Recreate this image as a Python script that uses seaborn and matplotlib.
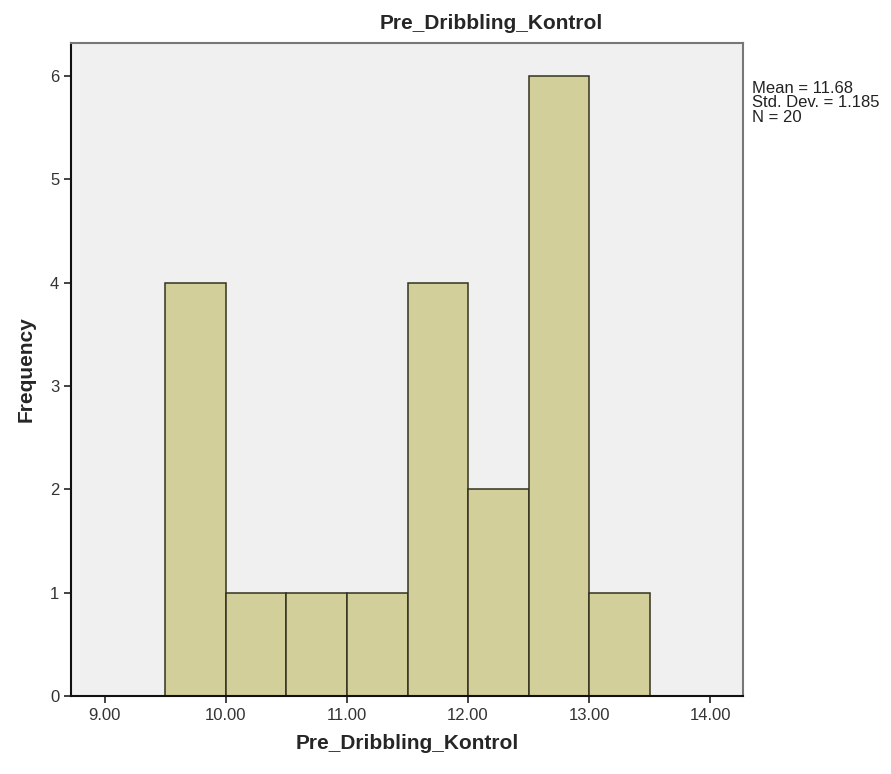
import numpy as np
import seaborn as sns
import matplotlib.pyplot as plt

# histogram data (bin width 0.5)
bin_centers = [9.75, 10.25, 10.75, 11.25, 11.75, 12.25, 12.75, 13.25]
counts = [4, 1, 1, 1, 4, 2, 6, 1]
bin_edges = [9.5, 10.0, 10.5, 11.0, 11.5, 12.0, 12.5, 13.0, 13.5]
x_ticks = [9, 10, 11, 12, 13, 14]
y_ticks = [0, 1, 2, 3, 4, 5, 6]
stats_text = "Mean = 11.68\nStd. Dev. = 1.185\nN = 20"

sns.set_style("ticks")
plt.rcParams['font.family'] = ['Liberation Sans', 'DejaVu Sans']

fig = plt.figure(figsize=(8.91, 7.74), dpi=100)
ax = fig.add_axes([0.0797, 0.1008, 0.754, 0.8437])
ax.set_facecolor("#f0f0f0")

sns.histplot(x=bin_centers, weights=counts, bins=bin_edges, ax=ax,
             color="#d3cf9a", alpha=1, edgecolor="#33331f", linewidth=1.1)

ax.set_xlim(8.72, 14.27)
ax.set_ylim(0, 6.32)
ax.set_xticks(x_ticks)
ax.set_xticklabels([f"{t:.2f}" for t in x_ticks], fontsize=12, color="#333333")
ax.set_yticks(y_ticks)
ax.set_yticklabels([str(t) for t in y_ticks], fontsize=12, color="#333333")
ax.tick_params(axis="both", direction="out", length=5, width=1.2, color="#222222")

for s in ["left", "bottom"]:
    ax.spines[s].set_color("#111111")
    ax.spines[s].set_linewidth(1.5)
for s in ["top", "right"]:
    ax.spines[s].set_visible(True)
    ax.spines[s].set_color("#777777")
    ax.spines[s].set_linewidth(1.5)

ax.set_xlabel("Pre_Dribbling_Kontrol", fontsize=15, fontweight="bold", labelpad=8)
ax.set_ylabel("Frequency", fontsize=15, fontweight="bold", labelpad=10)

fig.text(0.551, 0.970, "Pre_Dribbling_Kontrol", fontsize=15, fontweight="bold",
         ha="center", va="center")
fig.text(0.844, 0.867, stats_text, fontsize=12, ha="left", va="center",
         linespacing=0.95, color="#222222")

plt.savefig("out.png", dpi=100)
